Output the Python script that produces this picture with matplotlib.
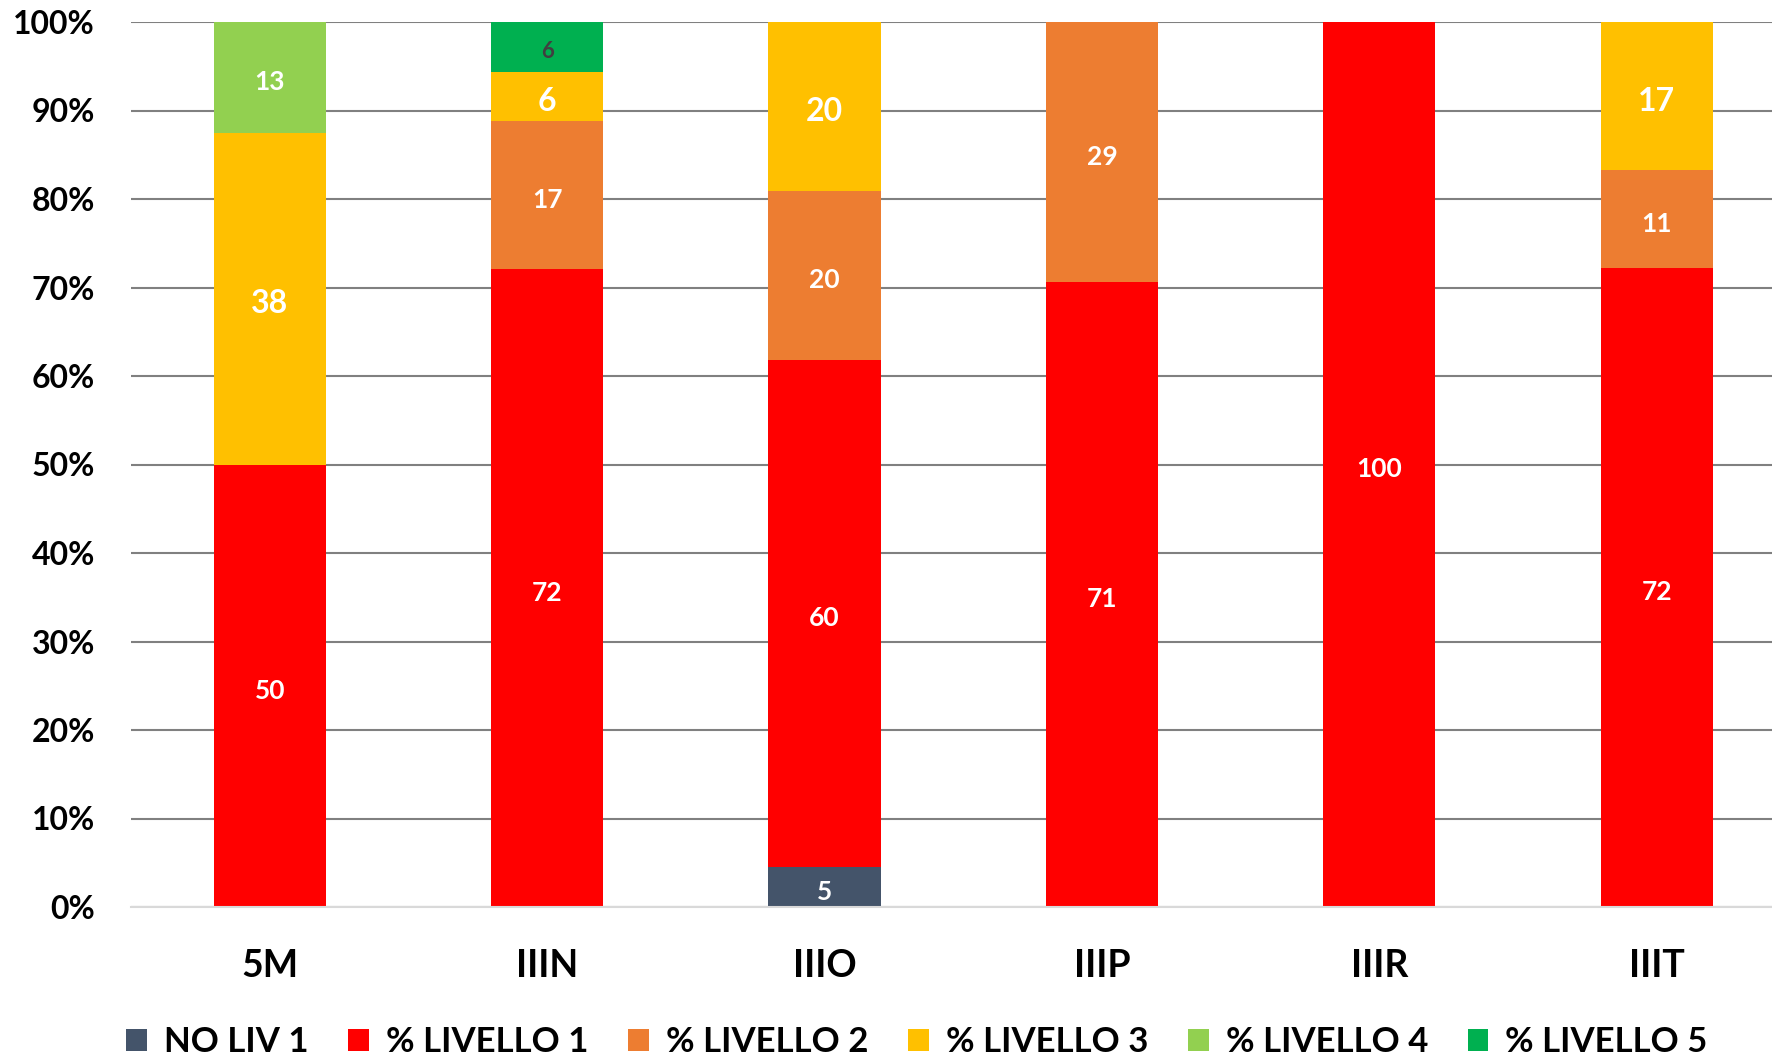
import matplotlib
matplotlib.use("Agg")
import matplotlib.pyplot as plt
import numpy as np

plt.rcParams['font.family'] = ['Lato', 'DejaVu Sans']
plt.rcParams['font.weight'] = 'bold'

# Data (percent of each class)
classes = ['5M', 'IIIN', 'IIIO', 'IIIP', 'IIIR', 'IIIT']
no_liv1 = [0, 0, 4.76, 0, 0, 0]
livello1 = [50, 72.2, 60, 70.6, 100, 72.2]
livello2 = [0, 16.7, 20, 29.4, 0, 11.1]
livello3 = [37.5, 5.6, 20, 0, 0, 16.7]
livello4 = [12.5, 0, 0, 0, 0, 0]
livello5 = [0, 5.6, 0, 0, 0, 0]

series_names = ['NO LIV 1', '% LIVELLO 1', '% LIVELLO 2', '% LIVELLO 3', '% LIVELLO 4', '% LIVELLO 5']
series_values = [no_liv1, livello1, livello2, livello3, livello4, livello5]
colors = ['#44546A', '#FF0000', '#ED7D31', '#FFC000', '#92D050', '#00B050']
label_sizes = [19, 19, 19, 23, 19, 16]
label_colors = ['white', 'white', 'white', 'white', 'white', '#404040']

W, H = 1772, 1058
fig = plt.figure(figsize=(W / 100, H / 100), dpi=100)
ax = fig.add_axes([131 / W, 151 / H, 1 - 131 / W, (1036 - 151) / H])

data = np.array(series_values, dtype=float)
totals = data.sum(axis=0)
shares = data / totals * 100

x = np.arange(len(classes))
bar_width = 0.404
bottom = np.zeros(len(classes))
for i, name in enumerate(series_names):
    ax.bar(x, shares[i], bar_width, bottom=bottom, color=colors[i], label=name, zorder=2)
    # value labels in the middle of each segment
    for j in range(len(classes)):
        if data[i, j] > 0:
            ax.annotate(str(int(np.floor(data[i, j] + 0.5))),
                        xy=(x[j], bottom[j] + shares[i, j] / 2),
                        xytext=(0, -2), textcoords='offset points',
                        ha='center', va='center_baseline', color=label_colors[i],
                        fontsize=label_sizes[i], fontweight='bold', zorder=3)
    bottom += shares[i]

ax.set_xlim(-0.5, -0.5 + 1641 / 277.4)
ax.set_ylim(0, 100)
ax.set_yticks(np.arange(0, 101, 10))
ax.set_yticklabels([f'{v}%' for v in range(0, 101, 10)])
ax.set_xticks(x)
ax.set_xticklabels(classes)
ax.tick_params(axis='y', length=0, pad=26, labelsize=23)
ax.tick_params(axis='x', length=0, pad=30, labelsize=27)

for s in ['top', 'right', 'left']:
    ax.spines[s].set_visible(False)
ax.spines['bottom'].set_color('#D9D9D9')
ax.spines['bottom'].set_linewidth(1.5)
ax.set_axisbelow(True)
ax.yaxis.grid(True, color='#808080', linewidth=1.5)
ax.xaxis.grid(False)

fig.legend(loc='center', bbox_to_anchor=(917 / W, 15.5 / H), ncol=6, frameon=False,
           fontsize=25, handlelength=0.6, handleheight=0.6, handletextpad=0.49,
           columnspacing=1.14, borderaxespad=0)

fig.savefig('out.png', dpi=100)
